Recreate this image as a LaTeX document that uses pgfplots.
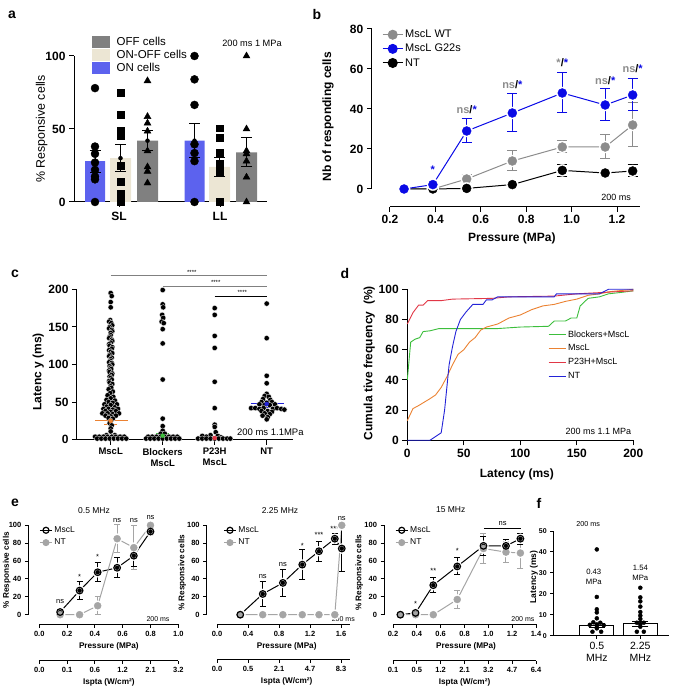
\documentclass[border=0pt]{standalone}
\usepackage{pgfplots}
\pgfplotsset{compat=1.18}
\usepackage{pgfplotstable}
\usepackage{fontspec}
\setmainfont{Liberation Sans}
\newcommand\fs[1]{\fontsize{#1}{#1}\selectfont}
\definecolor{onblue}{RGB}{92,98,238}
\definecolor{onoff}{RGB}{236,230,212}
\definecolor{offgray}{RGB}{128,128,128}
\definecolor{bblue}{RGB}{10,10,230}
\definecolor{bgray}{RGB}{140,140,140}
\definecolor{dgreen}{RGB}{60,190,60}
\definecolor{dorange}{RGB}{235,130,50}
\definecolor{dred}{RGB}{225,55,70}
\definecolor{dblue}{RGB}{35,35,215}
\definecolor{egray}{RGB}{165,165,165}

\pgfplotsset{
  base/.style={scale only axis, clip=false, anchor=south west,
    axis line style={line width=1pt, black},
    every tick/.style={black, line width=1pt},
    major tick length=5pt, tick align=outside,
    /pgf/number format/assume math mode=true,
    axis lines*=left},
  ebar/.style 2 args={only marks, mark=none, forget plot, #1,
    error bars/.cd, y dir=both, y explicit,
    error bar style={line width=1pt, #1},
    error mark options={rotate=90, mark size=#2, line width=1pt, #1}},
  estyle/.style={base, ymin=-10.74, ymax=100, height=99pt, axis line style={draw=none},
    ytick={0,20,40,60,80,100}, tick label style={font=\bfseries\fs{7.5}}, major tick length=3.5pt,
    every tick/.style={black, line width=0.9pt},
    xlabel={Pressure (MPa)}, ylabel={\% Responsive cells}, label style={font=\bfseries\fs{8.2}},
    legend style={draw=none, fill=none, font=\fs{8.5}, inner sep=0pt, row sep=1pt, cells={anchor=west}},
    legend image code/.code={\draw[mark repeat=2,mark phase=2,#1] plot coordinates {(0pt,0pt) (6pt,0pt) (12pt,0pt)};}},
  ispta/.style={scale only axis, anchor=south west, height=1pt, ymin=0, ymax=1, clip=false,
    axis y line=none, axis x line*=bottom, axis line style={line width=1pt, black},
    every tick/.style={black, line width=0.9pt}, major tick length=3.5pt, tick align=outside,
    tick label style={font=\bfseries\fs{7.5}}, xlabel={Ispta (W/cm²)}, label style={font=\bfseries\fs{8.2}}},
}

% ---------- panel b tables
\pgfplotstableread{
x y e
0.262 0 0
0.389 0 0
0.538 5 2
0.739 14 5
0.959 21 3
1.148 21 6
1.269 32 11
}\bWT
\pgfplotstableread{
x y e
0.262 0 0
0.389 2.2 0
0.538 29 6
0.739 38 9.5
0.959 48 10
1.148 42 8
1.269 47 8
}\bG
\pgfplotstableread{
x y e
0.262 0 0
0.389 0 0
0.538 0.3 0
0.739 2.2 0.5
0.959 9.3 3
1.148 8 1
1.269 9 3
}\bNT
% ---------- panel e tables
\pgfplotstableread{
x y e
0.15 3 0
0.29 27 10
0.42 47.5 10.5
0.56 52.5 11
0.68 66 12.5
0.80 93 4
}\eAm
\pgfplotstableread{
x y e
0.15 0 0
0.29 0 0
0.42 10 10
0.56 85 15.5
0.68 75 25
0.80 100 0
}\eAn
\pgfplotstableread{
x y e
0.30 0 0
0.59 23.2 14.3
0.85 35.6 14.7
1.10 56 16.7
1.316 71 11.4
1.52 85 6.2
1.61 74 26
}\eBm
\pgfplotstableread{
x y e
0.30 0 0
0.59 0 0
0.85 0 0
1.10 0 0
1.316 0 0
1.52 0 0
1.61 100 0
}\eBn
\pgfplotstableread{
x y e
0.262 0 0
0.389 2 0
0.538 33 8.5
0.739 54 9.5
0.959 77 10.5
1.148 77 7
1.269 85 6
}\eCm
\pgfplotstableread{
x y e
0.262 0 0
0.389 0 0
0.538 0 0
0.739 17 10
0.959 74 17
1.148 70 12
1.269 69 17
}\eCn

\begin{document}
\begin{tikzpicture}
\useasboundingbox (0pt,0pt) rectangle (672pt,688pt);
\node[font=\bfseries\fs{14}] at (12pt,673pt) {a};
\node[font=\bfseries\fs{14}] at (317pt,673pt) {b};
\node[font=\bfseries\fs{14}] at (15pt,414pt) {c};
\node[font=\bfseries\fs{14}] at (345pt,414pt) {d};
\node[font=\bfseries\fs{14}] at (15pt,185pt) {e};
\node[font=\bfseries\fs{14}] at (539pt,185pt) {f};

% ================= panel a
\begin{axis}[base, at={(74pt,486pt)}, width=193pt, height=146pt,
  xmin=74, xmax=267, ymin=0, ymax=100,
  xtick={119,220}, xticklabels={SL,LL}, ytick={0,50,100},
  tick label style={font=\bfseries\fs{12}},
  xticklabel style={yshift=-2pt},
  ylabel={\% Responsive cells}, ylabel style={font=\fs{12.4}, at={(axis description cs:-0.167,0.5)}, anchor=center},
  legend style={at={(axis cs:92,113.6)}, anchor=north west, draw=none, fill=none, inner sep=0pt, font=\fs{11.5}, row sep=1pt, cells={anchor=west}, nodes={inner sep=0.5pt}, /tikz/every odd column/.append style={column sep=6pt}},
  legend image code/.code={\fill[#1] (0pt,-6pt) rectangle (18pt,6pt);},
]
\addplot[ybar, bar width=20pt, bar shift=0pt, fill=onblue, draw=none, forget plot] coordinates {(95,28) (194.5,42)};
\addplot[ybar, bar width=21pt, bar shift=0pt, fill=onoff, draw=none, forget plot] coordinates {(120.5,30) (219.5,24)};
\addplot[ybar, bar width=21pt, bar shift=0pt, fill=offgray, draw=none, forget plot] coordinates {(147.5,42) (246.5,34)};
\addplot[ebar={black}{5.5pt}] coordinates {(95,28) +- (0,7.5) (120.5,30) +- (0,9.3) (147.5,42) +- (0,7) (194.5,42) +- (0,11.5) (219.5,24) +- (0,6.5) (246.5,34) +- (0,10)};
\addplot[only marks, mark=*, mark size=4pt, black, forget plot] coordinates {(95,78) (95,38) (95,33) (95,27) (95,22) (95,17.5) (95,15.5) (95,0) (194.5,100) (194.5,84) (194.5,66.5) (194.5,39.5) (194.5,33.5) (194.5,28) (194.5,0)};
\addplot[only marks, mark=square*, mark size=3.4pt, black, forget plot] coordinates {(120.5,75) (120.5,60) (120.5,49) (120.5,47) (120.5,45) (120.5,25) (120.5,14) (120.5,6) (120.5,2) (120.5,0) (219.5,50.5) (219.5,44) (219.5,34) (219.5,26.5) (219.5,21) (219.5,0)};
\addplot[only marks, mark=triangle*, mark size=4pt, black, forget plot] coordinates {(147.5,83) (147.5,58.5) (147.5,54) (147.5,48.5) (147.5,35) (147.5,24) (147.5,21) (147.5,13) (246.5,100) (246.5,50) (246.5,35) (246.5,33) (246.5,28) (246.5,17) (246.5,0)};
\addlegendimage{fill=offgray, draw=none}\addlegendentry{OFF cells}
\addlegendimage{fill=onoff, draw=none}\addlegendentry{ON-OFF cells}
\addlegendimage{fill=onblue, draw=none}\addlegendentry{ON cells}
\node[font=\fs{9.2}] at (axis cs:252,108.9) {200 ms 1 MPa};
\end{axis}

% ================= panel b
\begin{axis}[base, at={(371.8pt,481pt)}, width=267.9pt, height=178pt,
  xmin=0.12, xmax=1.3, ymin=-9, ymax=80, axis line style={draw=none},
  xtick={0.2,0.4,0.6,0.8,1.0,1.2}, xticklabels={0.2,0.4,0.6,0.8,1.0,1.2},
  ytick={0,20,40,60,80},
  tick label style={font=\bfseries\fs{12}},
  xlabel={Pressure (MPa)}, ylabel={Nb of responding cells},
  label style={font=\bfseries\fs{12}},
  xlabel style={at={(axis description cs:0.523,-0.174)}, anchor=center},
  ylabel style={at={(axis description cs:-0.1635,0.506)}, anchor=center},
  legend style={at={(axis cs:0.165,80.5)}, anchor=north west, draw=none, fill=none, inner sep=0pt, font=\fs{11}, row sep=1pt, cells={anchor=west}},
  legend image code/.code={\draw[mark repeat=2,mark phase=2,#1] plot coordinates {(0pt,0pt) (10pt,0pt) (20pt,0pt)};},
]
\draw[line width=1pt] (axis cs:0.12,0) -- (axis cs:0.12,80);
\draw[line width=1pt] (axis cs:0.2,-9) -- (axis cs:1.3,-9);
\addplot[bgray, line width=1pt, forget plot] table[x=x,y=y]{\bWT};
\addplot[black, line width=1pt, forget plot] table[x=x,y=y]{\bNT};
\addplot[bblue, line width=1pt, forget plot] table[x=x,y=y]{\bG};
\addplot[ebar={bgray}{5pt}] table[x=x,y=y,y error=e]{\bWT};
\addplot[only marks, mark=*, mark size=6pt, white, forget plot] table[x=x,y=y]{\bWT};
\addplot[only marks, mark=*, mark size=4.5pt, bgray, forget plot] table[x=x,y=y]{\bWT};
\addplot[ebar={black}{5pt}] table[x=x,y=y,y error=e]{\bNT};
\addplot[only marks, mark=*, mark size=6pt, white, forget plot] table[x=x,y=y]{\bNT};
\addplot[only marks, mark=*, mark size=4.5pt, black, forget plot] table[x=x,y=y]{\bNT};
\addplot[ebar={bblue}{5pt}] table[x=x,y=y,y error=e]{\bG};
\addplot[only marks, mark=*, mark size=6pt, white, forget plot] table[x=x,y=y]{\bG};
\addplot[only marks, mark=*, mark size=4.5pt, bblue, forget plot] table[x=x,y=y]{\bG};
\addlegendimage{bgray, line width=1pt, mark=*, mark size=4.5pt}\addlegendentry{MscL WT}
\addlegendimage{bblue, line width=1pt, mark=*, mark size=4.5pt}\addlegendentry{MscL G22s}
\addlegendimage{black, line width=1pt, mark=*, mark size=4.5pt}\addlegendentry{NT}
\node[font=\bfseries\fs{11}, text=bblue] at (axis cs:0.389,9.5) {*};
\node[font=\bfseries\fs{11}] at (axis cs:0.538,39.5) {\textcolor{bgray}{ns}/\textcolor{bblue}{*}};
\node[font=\bfseries\fs{11}] at (axis cs:0.739,52) {\textcolor{bgray}{ns}/\textcolor{bblue}{*}};
\node[font=\bfseries\fs{11}] at (axis cs:0.959,63) {\textcolor{bgray}{*}/\textcolor{bblue}{*}};
\node[font=\bfseries\fs{11}] at (axis cs:1.148,54) {\textcolor{bgray}{ns}/\textcolor{bblue}{*}};
\node[font=\bfseries\fs{11}] at (axis cs:1.269,60) {\textcolor{bgray}{ns}/\textcolor{bblue}{*}};
\node[font=\fs{9}] at (axis cs:1.196,-4) {200 ms};
\end{axis}

% ================= panel c
\begin{axis}[base, at={(77pt,248.3pt)}, width=215.7pt, height=150.4pt,
  xmin=0.352, xmax=4.5, ymin=0, ymax=200,
  xtick={1,2,3,4}, xticklabels={MscL,{Blockers\\MscL},{P23H\\MscL},NT},
  xticklabel style={align=center, font=\bfseries\fontsize{9.5}{11}\selectfont},
  ytick={0,50,100,150,200},
  yticklabel style={font=\bfseries\fs{12}},
  ylabel={Latenc y (ms)}, ylabel style={font=\bfseries\fs{12}, at={(axis description cs:-0.179,0.452)}, anchor=center},
]
\addplot[only marks, mark=*, mark size=2.7pt, mark options={fill=black, draw=white, line width=0.3pt}, forget plot] table {
x y
1.00 195
1.02 191
1.00 183
1.00 176
0.99 159
0.97 157
1.01 155
1.03 152
0.98 150
0.97 148
1.02 146
1.03 144
1.00 142
1.00 139
0.98 137
0.97 135
1.02 133
1.03 131
1.00 129
0.97 127
0.98 125
1.03 123
1.02 121
0.97 119
1.00 117
1.03 115
0.98 113
0.97 111
1.02 109
1.00 107
0.99 105
0.97 103
1.02 102
1.03 100
0.98 98
1.00 96
1.01 94
0.97 92
0.98 90
1.03 88
1.02 86
0.98 84
1.00 82
1.02 80
0.97 78
0.98 76
1.03 74
1.00 71
1.01 69
0.96 67
1.04 64
0.99 62
0.94 59
1.05 57
1.00 55
0.92 53
1.08 52
0.96 50
1.04 49
0.88 47
1.12 47
1.00 46
0.92 44
1.08 43
0.86 41
0.96 41
1.04 40
1.14 41
0.90 38
1.00 37
1.10 38
0.84 35
0.94 35
1.04 34
1.16 35
0.90 32
1.00 31
1.10 32
0.96 29
1.04 28
1.00 25
0.98 22
1.02 19
1.00 15
1.00 11
0.92 6
1.08 6
0.70 4
0.78 4
0.86 4
0.94 4
1.02 4
1.10 4
1.18 4
1.26 4
0.74 1.5
0.82 1.5
0.90 1.5
0.98 1.5
1.06 1.5
1.14 1.5
1.22 1.5
1.30 1.5
2.00 199
2.00 180
2.01 176
1.99 166
2.01 162
1.98 157
2.02 155
2.00 147
2.00 128
2.00 80
2.00 28
2.00 18
2.00 12
1.96 8
2.04 8
1.72 4
1.80 4
1.88 4
1.96 4
2.04 4
2.12 4
2.20 4
2.28 4
1.68 1.5
1.76 1.5
1.84 1.5
1.92 1.5
2.00 1.5
2.08 1.5
2.16 1.5
2.24 1.5
2.32 1.5
3.00 175
3.00 166
3.00 138
3.00 122
3.00 77
3.00 42
3.00 20
3.00 17
3.02 10
2.92 6
3.06 5
2.76 5
2.84 4
3.12 3
2.68 1.5
2.76 1.5
2.84 1.5
2.92 1.5
3.00 1.5
3.08 1.5
3.16 1.5
3.24 1.5
3.30 1.5
4.00 181
4.00 135
4.00 85
4.00 75
4.00 61
3.96 58
4.04 57
3.93 54
4.07 53
3.90 50
4.00 49
4.10 50
3.86 47
3.96 46
4.06 46
4.16 47
3.70 42
3.78 42
3.86 41
3.94 42
4.12 41
4.20 42
4.28 41
4.34 40
3.90 38
4.02 38
4.10 37
3.96 35
4.06 34
3.92 32
4.02 30
4.00 27
};
\addplot[dorange, line width=1pt, forget plot] coordinates {(0.70,25) (1.34,25)};
\addplot[ebar={dorange}{6.5pt}] coordinates {(1,25) +- (0,5)};
\addplot[dgreen, line width=1pt, forget plot] coordinates {(1.69,5.3) (2.33,5.3)};
\addplot[ebar={dgreen}{6.5pt}] coordinates {(2,5.3) +- (0,3.5)};
\addplot[dred, line width=1pt, forget plot] coordinates {(2.70,2.2) (3.32,2.2)};
\addplot[ebar={dred}{6.5pt}] coordinates {(3,2.2) +- (0,1)};
\addplot[dblue, line width=1pt, forget plot] coordinates {(3.69,47.5) (4.34,47.5)};
\addplot[ebar={dblue}{6.5pt}] coordinates {(4,47.5) +- (0,5)};
\draw[gray, line width=0.8pt] (axis cs:1,218) -- (axis cs:4,218);
\draw[gray, line width=0.8pt] (axis cs:2,204) -- (axis cs:4,204);
\draw[black, line width=0.8pt] (axis cs:3,191) -- (axis cs:4,191);
\node[font=\fs{6}] at (axis cs:2.56,222.6) {****};
\node[font=\fs{6}] at (axis cs:3.02,209.3) {****};
\node[font=\fs{6}] at (axis cs:3.53,195.5) {****};
\node[font=\fs{9.5}] at (axis cs:4.07,10.2) {200 ms 1.1MPa};
\end{axis}

% ================= panel d
\begin{axis}[base, at={(407.3pt,247.7pt)}, width=226pt, height=151pt,
  xmin=0, xmax=200, ymin=0, ymax=100, xtick={0,50,100,150,200}, ytick={0,20,40,60,80,100},
  tick label style={font=\bfseries\fs{12}},
  xlabel={Latency (ms)}, ylabel={Cumula tive frequency\ \ (\%)}, label style={font=\bfseries\fs{12}},
  xlabel style={at={(axis description cs:0.485,-0.223)}, anchor=center},
  ylabel style={at={(axis description cs:-0.168,0.51)}, anchor=center},
  legend style={at={(axis cs:124.5,74)}, anchor=north west, draw=none, fill=none, font=\fs{9}, inner sep=0pt, row sep=2pt, cells={anchor=west}},
  legend image code/.code={\draw[#1] (0pt,0pt) -- (17pt,0pt);},
]
\addplot[dgreen, line width=0.9pt] coordinates {(0,40) (3,65) (7,67) (11,68) (14,72) (20,72.5) (28,74) (80,74) (100,75) (125,75.5) (130,79) (140,79) (145,81) (150,81) (153,89) (160,94) (170,95) (178,97) (190,98) (200,99)};
\addlegendentry{Blockers+MscL}
\addplot[dorange, line width=0.9pt] coordinates {(0,13) (5,21) (10,23) (20,27.5) (25,30) (30,35) (35,42) (40,50) (45,57) (50,60) (55,65) (60,68) (65,73) (70,75) (80,77) (90,81) (100,83) (110,86.5) (120,89) (130,90) (140,92) (150,93.5) (160,96) (170,97) (180,98.5) (200,100)};
\addlegendentry{MscL}
\addplot[dred, line width=0.9pt] coordinates {(0,77) (5,84.5) (10,89.5) (14,89.5) (18,92.5) (30,92.5) (40,93.5) (75,94) (90,95) (130,95.5) (150,97) (175,98) (200,99)};
\addlegendentry{P23H+MscL}
\addplot[dblue, line width=0.9pt] coordinates {(0,0) (20,0) (30,5) (33,20) (35,35) (37,50) (40,62) (43,72) (47,80) (52,85) (58,90) (67,90) (70,93) (75,93) (80,95) (130,95) (132,97) (170,97) (178,100) (200,100)};
\addlegendentry{NT}
\node[font=\fs{9}] at (axis cs:169,6.2) {200 ms 1.1 MPa};
\end{axis}

% ================= panel e1
\begin{axis}[estyle, at={(28.3pt,63.7pt)}, width=150pt,
  xmin=-0.079, xmax=1.0, xtick={0,0.2,0.4,0.6,0.8,1.0}, xticklabels={0.0,0.2,0.4,0.6,0.8,1.0},
  xlabel style={at={(axis description cs:0.537,-0.226)}, anchor=center},
  ylabel style={at={(axis description cs:-0.143,0.548)}, anchor=center},
  legend style={at={(axis cs:0,101)}, anchor=north west}]
\draw[line width=1pt] (axis cs:-0.079,0) -- (axis cs:-0.079,100);
\draw[line width=1pt] (axis cs:0,-10.74) -- (axis cs:1.0,-10.74);
\addplot[black, line width=1pt, forget plot] table[x=x,y=y]{\eAm};
\addplot[egray, line width=1pt, forget plot] table[x=x,y=y]{\eAn};
\addplot[only marks, mark=*, mark size=5pt, white, forget plot] table[x=x,y=y]{\eAm};
\addplot[only marks, mark=*, mark size=5pt, white, forget plot] table[x=x,y=y]{\eAn};
\addplot[ebar={egray}{3pt}] table[x=x,y=y,y error=e]{\eAn};
\addplot[ebar={black}{3pt}] table[x=x,y=y,y error=e]{\eAm};
\addplot[only marks, mark=*, mark size=3.5pt, egray, forget plot] table[x=x,y=y]{\eAn};
\addplot[only marks, mark=o, mark size=3.3pt, mark options={black, line width=1.2pt}, forget plot] table[x=x,y=y]{\eAm};
\addlegendimage{black, line width=1pt, mark=o, mark size=3pt, mark options={line width=1.2pt}}\addlegendentry{MscL}
\addlegendimage{egray, line width=1pt, mark=*, mark size=3pt}\addlegendentry{NT}
\node[font=\fs{8.5}] at (axis cs:0.394,116) {0.5 MHz};
\node[font=\fs{7}] at (axis cs:0.854,-4.8) {200 ms};
\node[font=\fs{7.5}] at (axis cs:0.15,14.5) {ns};
\node[font=\fs{7.5}] at (axis cs:0.29,42) {*};
\node[font=\fs{7.5}] at (axis cs:0.42,65) {*};
\node[font=\fs{7.5}] at (axis cs:0.56,105) {ns};
\node[font=\fs{7.5}] at (axis cs:0.68,105) {ns};
\node[font=\fs{7.5}] at (axis cs:0.80,109) {ns};
\end{axis}
\begin{axis}[ispta, at={(39.3pt,27.3pt)}, width=139pt, xmin=0, xmax=1.0,
  xtick={0,0.2,0.4,0.6,0.8,1.0}, xticklabels={0.0,0.1,0.6,1.2,2.1,3.2},
  xlabel style={at={(axis description cs:0.5,0)}, anchor=center, yshift=-21.6pt}]
\addplot[draw=none, forget plot] coordinates {(0,0)};
\end{axis}

% ================= panel e2
\begin{axis}[estyle, at={(206.7pt,63.7pt)}, width=143.6pt,
  xmin=-0.133, xmax=1.72, xtick={0,0.4,0.8,1.2,1.6}, xticklabels={0.0,0.4,0.8,1.2,1.6},
  xlabel style={at={(axis description cs:0.557,-0.226)}, anchor=center},
  ylabel style={at={(axis description cs:-0.170,0.52)}, anchor=center},
  legend style={at={(axis cs:0.081,101)}, anchor=north west}]
\draw[line width=1pt] (axis cs:-0.133,0) -- (axis cs:-0.133,100);
\draw[line width=1pt] (axis cs:0,-10.74) -- (axis cs:1.72,-10.74);
\addplot[black, line width=1pt, forget plot] table[x=x,y=y]{\eBm};
\addplot[egray, line width=1pt, forget plot] table[x=x,y=y]{\eBn};
\addplot[only marks, mark=*, mark size=5pt, white, forget plot] table[x=x,y=y]{\eBm};
\addplot[only marks, mark=*, mark size=5pt, white, forget plot] table[x=x,y=y]{\eBn};
\addplot[ebar={egray}{3pt}] table[x=x,y=y,y error=e]{\eBn};
\addplot[ebar={black}{3pt}] table[x=x,y=y,y error=e]{\eBm};
\addplot[only marks, mark=*, mark size=3.5pt, egray, forget plot] table[x=x,y=y]{\eBn};
\addplot[only marks, mark=o, mark size=3.3pt, mark options={black, line width=1.2pt}, forget plot] table[x=x,y=y]{\eBm};
\addlegendimage{black, line width=1pt, mark=o, mark size=3pt, mark options={line width=1.2pt}}\addlegendentry{MscL}
\addlegendimage{egray, line width=1pt, mark=*, mark size=3pt}\addlegendentry{NT}
\node[font=\fs{8.5}] at (axis cs:0.813,116) {2.25 MHz};
\node[font=\fs{7}] at (axis cs:1.63,-4.5) {200 ms};
\node[font=\fs{7.5}] at (axis cs:0.59,43) {ns};
\node[font=\fs{7.5}] at (axis cs:0.85,56) {ns};
\node[font=\fs{7.5}] at (axis cs:1.10,77) {*};
\node[font=\fs{7.5}] at (axis cs:1.316,89) {***};
\node[font=\fs{7.5}] at (axis cs:1.52,96.5) {***};
\node[font=\fs{7.5}] at (axis cs:1.61,108) {ns};
\end{axis}
\begin{axis}[ispta, at={(217pt,28.7pt)}, width=133.3pt, xmin=0, xmax=1.72,
  xtick={0,0.4,0.8,1.2,1.6}, xticklabels={0.0,0.5,2.1,4.7,8.3},
  xlabel style={at={(axis description cs:0.523,0)}, anchor=center, yshift=-21.6pt}]
\addplot[draw=none, forget plot] coordinates {(0,0)};
\end{axis}

% ================= panel e3
\begin{axis}[estyle, at={(384pt,63.7pt)}, width=152pt,
  xmin=0.1245, xmax=1.4, xtick={0.2,0.4,0.6,0.8,1.0,1.2,1.4}, xticklabels={0.2,0.4,0.6,0.8,1.0,1.2,1.4},
  xlabel style={at={(axis description cs:0.54,-0.226)}, anchor=center},
  ylabel style={at={(axis description cs:-0.163,0.52)}, anchor=center},
  legend style={at={(axis cs:0.217,101)}, anchor=north west}]
\draw[line width=1pt] (axis cs:0.1245,0) -- (axis cs:0.1245,100);
\draw[line width=1pt] (axis cs:0.2,-10.74) -- (axis cs:1.4,-10.74);
\addplot[black, line width=1pt, forget plot] table[x=x,y=y]{\eCm};
\addplot[egray, line width=1pt, forget plot] table[x=x,y=y]{\eCn};
\addplot[only marks, mark=*, mark size=5pt, white, forget plot] table[x=x,y=y]{\eCm};
\addplot[only marks, mark=*, mark size=5pt, white, forget plot] table[x=x,y=y]{\eCn};
\addplot[ebar={egray}{3pt}] table[x=x,y=y,y error=e]{\eCn};
\addplot[ebar={black}{3pt}] table[x=x,y=y,y error=e]{\eCm};
\addplot[only marks, mark=*, mark size=3.5pt, egray, forget plot] table[x=x,y=y]{\eCn};
\addplot[only marks, mark=o, mark size=3.3pt, mark options={black, line width=1.2pt}, forget plot] table[x=x,y=y]{\eCm};
\addlegendimage{black, line width=1pt, mark=o, mark size=3pt, mark options={line width=1.2pt}}\addlegendentry{MscL}
\addlegendimage{egray, line width=1pt, mark=*, mark size=3pt}\addlegendentry{NT}
\node[font=\fs{8.5}] at (axis cs:0.684,117) {15 MHz};
\node[font=\fs{7}] at (axis cs:1.29,-4.8) {200 ms};
\node[font=\fs{7.5}] at (axis cs:0.389,12) {*};
\node[font=\fs{7.5}] at (axis cs:0.538,49) {**};
\node[font=\fs{7.5}] at (axis cs:0.739,71) {*};
\draw[line width=0.8pt] (axis cs:0.963,96) -- (axis cs:1.274,96);
\node[font=\fs{7.5}] at (axis cs:1.12,102) {ns};
\end{axis}
\begin{axis}[ispta, at={(393pt,27.3pt)}, width=143pt, xmin=0.2, xmax=1.4,
  xtick={0.2,0.4,0.6,0.8,1.0,1.2,1.4}, xticklabels={0.1,0.5,1.2,2.1,3.2,4.7,6.4},
  xlabel style={at={(axis description cs:0.5,0)}, anchor=center, yshift=-21.6pt}]
\addplot[draw=none, forget plot] coordinates {(0.2,0)};
\end{axis}

% ================= panel f
\begin{axis}[base, at={(553.3pt,52.3pt)}, width=115.3pt, height=104.7pt,
  xmin=0, xmax=2.65, ymin=0, ymax=50,
  xtick={1,2}, xticklabels={{0.5\\MHz},{2.25\\MHz}},
  xticklabel style={align=center, font=\fontsize{10.5}{12}\selectfont},
  ytick={0,10,20,30,40,50}, yticklabel style={font=\bfseries\fs{7}}, major tick length=3pt,
  ylabel={Latency (ms)}, ylabel style={font=\bfseries\fs{8.5}, at={(axis description cs:-0.168,0.56)}, anchor=center},
]
\addplot[ybar, bar width=34pt, bar shift=0pt, fill=white, draw=black, line width=1pt, forget plot] coordinates {(1,4.8) (2,5.6)};
\addplot[ebar={black}{8pt}] coordinates {(1,4.8) +- (0,0.9) (2,5.6) +- (0,1.3)};
\addplot[only marks, mark=*, mark size=2pt, black, forget plot] coordinates {(1,41.2) (1,18.5) (1,12.6) (1,11.1) (1,8.3) (0.92,6.4) (1.08,6.2) (0.84,5.2) (1,5.4) (1.16,5.0) (1,3.5) (0.9,1.9) (1.1,1.9) (2,22.9) (2,18.3) (2,16.4) (2,13.9) (2,11.3) (2,9.6) (2,8.0) (1.92,6.2) (2.08,6.2) (2,4.3) (1.92,1.9) (2.08,1.9)};
\node[font=\fs{7.2}] at (axis cs:0.8,53.4) {200 ms};
\node[font=\fontsize{7.7}{9.5}\selectfont, align=center] at (axis cs:0.93,28) {0.43\\MPa};
\node[font=\fontsize{7.7}{9.5}\selectfont, align=center] at (axis cs:2.0,30) {1.54\\MPa};
\end{axis}
\end{tikzpicture}
\end{document}
